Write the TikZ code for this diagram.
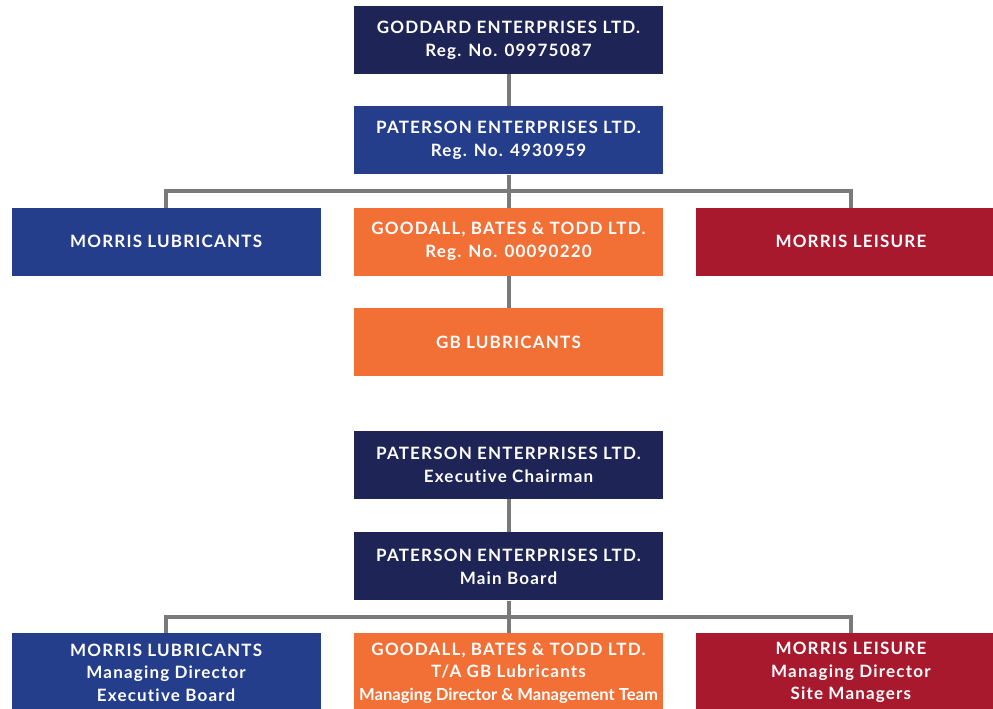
\documentclass[tikz,border=0pt]{standalone}
\usepackage{fontspec}
\setmainfont{Lato}[LetterSpace=7, Ligatures={NoCommon}]
\usetikzlibrary{positioning}

\definecolor{navy}{HTML}{1E2456}
\definecolor{royal}{HTML}{253E8B}
\definecolor{tangerine}{HTML}{F26F36}
\definecolor{crimson}{HTML}{A8192E}
\definecolor{linkgrey}{HTML}{7A7A7C}

\tikzset{
  orgbox/.style={fill=#1, text=white, font=\bfseries\fontsize{17}{23}\selectfont,
    minimum width=309pt, minimum height=68pt, inner sep=0pt, align=center},
  tallbox/.style={orgbox=#1, minimum height=80pt, font=\bfseries\fontsize{17}{22.5}\selectfont},
  link/.style={draw=linkgrey, line width=4pt},
}

\begin{document}
\begin{tikzpicture}[x=1pt, y=-1pt, node distance=32pt and 33pt]
\useasboundingbox (0,0) rectangle (993,709);

% ownership
\node[orgbox=navy] (goddard) at (508.5,40) {GODDARD ENTERPRISES LTD.\\Reg. No. 09975087};
\node[orgbox=royal, below=of goddard] (paterson) {PATERSON ENTERPRISES LTD.\\Reg. No. 4930959};
\node[orgbox=tangerine, below=33pt of paterson] (gbt) {GOODALL, BATES \& TODD LTD.\\Reg. No. 00090220};
\node[orgbox=royal, left=of gbt] (mlub) {MORRIS LUBRICANTS};
\node[orgbox=crimson, right=of gbt] (mlei) {MORRIS LEISURE};
\node[orgbox=tangerine, below=of gbt] (gblub) {GB LUBRICANTS};

\draw[link] (goddard) -- (paterson);
\draw[link] (paterson) -- (gbt);
\draw[link] (paterson.south) -- ++(0,16) -| (mlub.north);
\draw[link] (paterson.south) -- ++(0,16) -| (mlei.north);
\draw[link] (gbt) -- (gblub);

% management
\node[orgbox=navy] (chair) at (508.5,465) {PATERSON ENTERPRISES LTD.\\Executive Chairman};
\node[orgbox=navy, below=33pt of chair] (board) {PATERSON ENTERPRISES LTD.\\Main Board};
\node[tallbox=tangerine, below=of board] (gbtteam) {GOODALL, BATES \& TODD LTD.\\T/A GB Lubricants\\{\addfontfeature{LetterSpace=0}\fontsize{16.6}{22.5}\selectfont Managing Director \& Management Team}};
\node[tallbox=royal, left=of gbtteam] (mlubteam) {MORRIS LUBRICANTS\\Managing Director\\Executive Board};
\node[tallbox=crimson, right=of gbtteam] (mleiteam) {MORRIS LEISURE\\Managing Director\\Site Managers};

\draw[link] (chair) -- (board);
\draw[link] (board) -- (gbtteam);
\draw[link] (board.south) -- ++(0,16) -| (mlubteam.north);
\draw[link] (board.south) -- ++(0,16) -| (mleiteam.north);

\end{tikzpicture}
\end{document}
